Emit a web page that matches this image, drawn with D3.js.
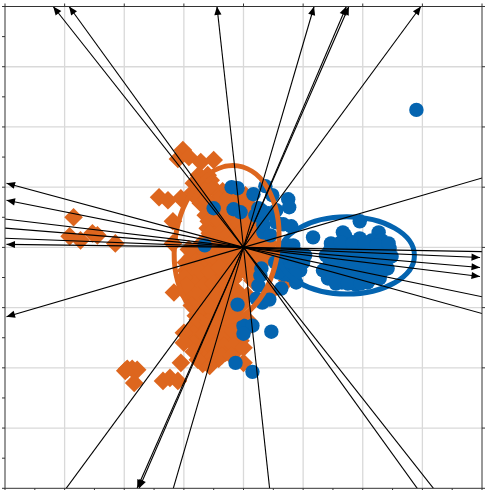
<!DOCTYPE html>
<html><head><meta charset="utf-8"><script src="https://cdnjs.cloudflare.com/ajax/libs/d3/7.8.5/d3.min.js"></script>
<style>html,body{margin:0;padding:0;background:#fff}svg{display:block}</style></head><body><script>
const W=486,H=490;
const orangeScores=[[-61,97],[-66,88],[-55,90],[-43,85],[-30,87],[-85,50],[-76,47],[-63,49],[-71,26],[-171,30],[-175,11],[-164,7],[-152,14],[-147,12],[-129,4],[-71,4],[-117,-121],[-112,-121],[-107,-122],[-119,-123],[-110,-135],[-81,-133],[-74,-130],[-66,-133],[-63,-115],[-70,-45],
[-43,65],[-33,67],[-21,56],[-10,54],[-51,55],[-38,55],[-28,57],[2,52],[-43,44],[-31,44],[-18,44],[-5,44],[5,42],[-38,32],[-25,32],[-13,27],[0,32],[9,32],[-36,19],[-23,19],[-10,17],[2,19],[12,22],[-38,7],[-28,7],[-15,7],[-3,7],[9,9],[19,12],[-46,-3],
[-53,-10],[-40,-5],[-28,-5],[-15,-5],[-3,-8],[9,-8],[19,-8],[27,-3],[-58,-23],[-46,-18],[-33,-18],[-21,-15],[-8,-18],[7,-21],[-53,-33],[-40,-31],[-28,-29],[-15,-38],[9,-33],[-48,-45],[-36,-43],[-23,-40],[-55,-48],[-43,-56],[-31,-56],[-18,-53],[-5,-49],[-48,-68],[-36,-68],[-23,-66],[-11,-68],[-53,-81],[-43,-81],[-31,-81],[-18,-81],[-5,-75],[-55,-91],[-46,-93],[-36,-95],[-25,-93],[-13,-93],[-3,-93],[-43,-105],[-31,-105],[-18,-105],[-6,-101],[-41,-116],[-25,-111],[0,-115],[-3,-98],
[-45,60],[-35,60],[-25,48],[-15,50],[-5,50],[-48,50],[-38,48],[-8,38],[-30,38],[-20,38],[10,38],[-35,26],[-25,26],[-5,26],[5,26],[15,26],[-34,14],[-24,14],[-14,14],[-4,14],[6,14],[16,14],[-44,2],[-34,2],[-24,2],[-14,2],[-4,2],[6,2],[16,2],[26,4],
[-50,-12],[-40,-12],[-30,-12],[-20,-10],[-10,-12],[0,-12],[10,-14],[20,-14],[-54,-24],[-44,-24],[-34,-24],[-24,-20],[-14,-24],[-4,-24],[6,-28],[-50,-36],[-40,-38],[-30,-36],[-20,-34],[-10,-32],[-46,-48],[-36,-50],[-26,-48],[-16,-46],[-6,-44],[4,-48],[-42,-60],[-32,-62],[-22,-60],[-12,-60],[-2,-58],[-46,-72],[-36,-74],[-26,-72],[-16,-72],[-6,-70],[4,-72],[-50,-86],[-40,-86],[-30,-86],[-20,-86],[-10,-84],[0,-84],[-50,-96],[-40,-98],[-30,-98],[-20,-98],[-10,-98],[0,-100],[-42,-108],[-32,-110],[-22,-108],[-12,-108],[44,-33],[27,-45],
[-45,72],[-36,72],[-50,64],[-55,-2],[-58,-15],[-60,-30],[-58,-38],[-52,-58],[-60,-85],[-50,-104],[-46,-112],[-34,-118],[-60,-95],[14,38],[20,30]];
const blueScores=[[174,137],[-12,60],[-6,59],[22,61],[10,53],[29,52],[45,48],[46,40],[-30,39],[-10,38],[-3,35],[15,39],[19,29],[20,15],[12,32],[25,34],[40,23],[48,21],[33,25],[70,10],[50,2],[100,15],[117,26],[136,15],[-39,2],
[18,-21],[59,-8],[53,-15],[57,-23],[40,-15],[47,-21],[53,-35],[38,-41],[26,-52],[19,-55],[13,-51],[15,-38],[-6,-57],[0,-78],[9,-78],[0,-86],[28,-84],[-8,-115],[9,-124],[17,-28],[32,-15],[39,-8],[45,2],[62,-8],[60,-15],
[87,-3],[87,-15],[85,-31],[95,2],[95,-11],[95,-23],[99,-35],[105,7],[107,-5],[107,-18],[109,-31],[113,-37],[117,9],[119,-3],[119,-15],[119,-27],[125,-35],[129,7],[131,-5],[131,-18],[133,-25],[139,7],[142,-3],[143,-15],[147,-1],[149,-9],[145,-21],[137,-31],[83,-8],[80,-23],[102,12],
[88,4],[98,5],[110,4],[122,4],[134,2],[146,4],[91,-8],[101,-8],[113,-8],[125,-8],[137,-8],[147,-8],[90,-20],[101,-20],[113,-20],[125,-20],[137,-20],[90,-28],[103,-28],[115,-28],[128,-28],[138,-26],[93,-36],[105,-36],[118,-36],[127,-32],[45,-5],[52,-5],[47,-28],[41,-27],[52,-27],[35,-25],[33,37],[18,37],[20,22],[27,12]];
const loadings=[[-191.5,240],[-175.5,240],[-26.7,240],[71,240],[106,240],[103.5,240],[178.5,240],[-238.5,64],[-238.5,47],[-238.5,3],[-238.5,-69],[-288,34],[-288,23],[-288,11],[238,-10],[238,-20],[238,-29],[288,83],[288,-5],[288,-59],[288,-79],[-197,-265],[-107,-240],[-105,-240],[-78,-265],[29,-265],[193,-265],[211,-265]];
// centre x, centre y, semi-axis x, semi-axis y, tilt in degrees
const orangeEllipse=[-17,3,52,79,8];
const blueEllipse=[104,-8,68,38.5,0];
const majorTicks=[-240,-180,-120,-60,0,60,120,180,240];
const minorTicks=d3.range(-240,241,30);
const colors={orange:"#dd661e",blue:"#0464b0"};

const x=d3.scaleLinear().domain([-240,240]).range([5,482]);
const y=d3.scaleLinear().domain([-240,240]).range([488.3,6.5]);
const svg=d3.select("body").append("svg").attr("width",W).attr("height",H);
svg.append("defs").append("clipPath").attr("id","c").append("rect").attr("x",5).attr("y",6.5).attr("width",477).attr("height",481.8);
const g=svg.append("g").attr("clip-path","url(#c)");
// grid
g.selectAll(".gx").data(majorTicks.slice(1,-1)).join("line").attr("x1",d=>x(d)).attr("x2",d=>x(d)).attr("y1",y(-240)).attr("y2",y(240)).attr("stroke","#d9d9d9").attr("stroke-width",1.3);
g.selectAll(".gy").data(majorTicks.slice(1,-1)).join("line").attr("y1",d=>y(d)).attr("y2",d=>y(d)).attr("x1",x(-240)).attr("x2",x(240)).attr("stroke","#d9d9d9").attr("stroke-width",1.3);
// diamonds
const D=9.3;
g.selectAll(".o").data(orangeScores).join("path").attr("d",d=>{const a=x(d[0]),b=y(d[1]);return `M${a},${b-D}L${a+D},${b}L${a},${b+D}L${a-D},${b}Z`}).attr("fill",colors.orange);
g.selectAll(".b").data(blueScores).join("circle").attr("cx",d=>x(d[0])).attr("cy",d=>y(d[1])).attr("r",7.2).attr("fill",colors.blue);
function ell(e,c){g.append("ellipse").attr("cx",x(e[0])).attr("cy",y(e[1])).attr("rx",x(e[2])-x(0)).attr("ry",y(0)-y(e[3])).attr("transform",`rotate(${e[4]} ${x(e[0])} ${y(e[1])})`).attr("fill","none").attr("stroke",c).attr("stroke-width",5);}
ell(blueEllipse,colors.blue);
ell(orangeEllipse,colors.orange);
// arrows
g.selectAll(".l").data(loadings).join("line").attr("x1",x(0)).attr("y1",y(0)).attr("x2",d=>x(d[0])).attr("y2",d=>y(d[1])).attr("stroke","#000").attr("stroke-width",1.1);
g.selectAll(".h").data(loadings).join("path").attr("fill","#000").attr("d",d=>{const a=x(d[0]),b=y(d[1]);const t=Math.atan2(b-y(0),a-x(0));const L=8.5,Wd=3.6;const bx=a-L*Math.cos(t),by=b-L*Math.sin(t);return `M${a},${b}L${bx-Wd*Math.sin(t)},${by+Wd*Math.cos(t)}L${bx+Wd*Math.sin(t)},${by-Wd*Math.cos(t)}Z`});
// frame and ticks
const fr="#333";
svg.append("rect").attr("x",5).attr("y",6.5).attr("width",477).attr("height",481.8).attr("fill","none").attr("stroke",fr).attr("stroke-width",1);
const ax=svg.append("g").attr("stroke",fr).attr("stroke-width",1);
ax.selectAll(".tl").data(minorTicks).join("line").attr("x1",2).attr("x2",5).attr("y1",d=>y(d)).attr("y2",d=>y(d));
ax.selectAll(".tb").data(minorTicks).join("line").attr("y1",488.3).attr("y2",490).attr("x1",d=>x(d)).attr("x2",d=>x(d));
ax.selectAll(".tt").data(majorTicks).join("line").attr("y1",3.5).attr("y2",6.5).attr("x1",d=>x(d)).attr("x2",d=>x(d));
ax.selectAll(".tr").data(majorTicks).join("line").attr("x1",482).attr("x2",485).attr("y1",d=>y(d)).attr("y2",d=>y(d));
</script></body></html>
